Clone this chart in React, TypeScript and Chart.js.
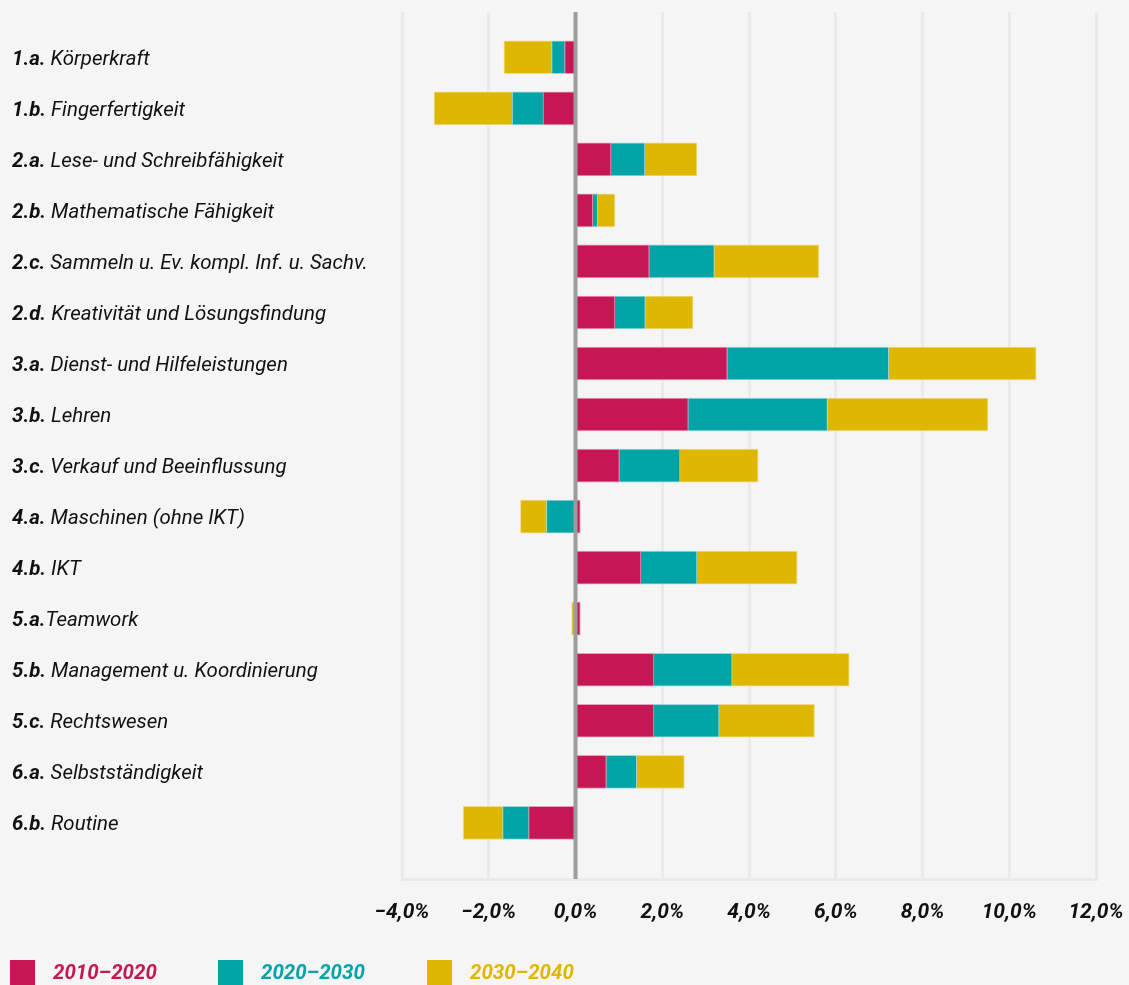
import React, { useEffect, useRef } from 'react';
import { Chart, registerables } from 'chart.js';

Chart.register(...registerables);

const codes = ['1.a. ', '1.b. ', '2.a. ', '2.b. ', '2.c. ', '2.d. ', '3.a. ', '3.b. ', '3.c. ', '4.a. ', '4.b. ', '5.a.', '5.b. ', '5.c. ', '6.a. ', '6.b. '];
const names = [
  'Körperkraft',
  'Fingerfertigkeit',
  'Lese- und Schreibfähigkeit',
  'Mathematische Fähigkeit',
  'Sammeln u. Ev. kompl. Inf. u. Sachv.',
  'Kreativität und Lösungsfindung',
  'Dienst- und Hilfeleistungen',
  'Lehren',
  'Verkauf und Beeinflussung',
  'Maschinen (ohne IKT)',
  'IKT',
  'Teamwork',
  'Management u. Koordinierung',
  'Rechtswesen',
  'Selbstständigkeit',
  'Routine',
];

const seriesLabels = ['2010–2020', '2020–2030', '2030–2040'];
const values2010 = [-0.25, -0.75, 0.82, 0.40, 1.70, 0.91, 3.50, 2.60, 1.01, 0.11, 1.51, 0.11, 1.81, 1.81, 0.71, -1.08];
const values2020 = [-0.30, -0.71, 0.78, 0.11, 1.50, 0.70, 3.72, 3.21, 1.40, -0.67, 1.29, 0.00, 1.80, 1.50, 0.70, -0.60];
const values2030 = [-1.10, -1.80, 1.20, 0.40, 2.41, 1.10, 3.40, 3.70, 1.80, -0.60, 2.31, -0.09, 2.70, 2.20, 1.10, -0.91];
const colors = ['#C71654', '#00A4A7', '#E0B700'];
const edgeColors = ['rgba(232,120,160,0.7)', 'rgba(120,205,205,0.7)', 'rgba(238,214,110,0.8)'];

const xMin = -4;
const xMax = 12;
const xStep = 2;

const FONT = 'Roboto';
const SQUEEZE = 0.975;

function fmt(v: number): string {
  const s = Math.abs(v).toFixed(1).replace('.', ',') + '%';
  return v < 0 ? '\u2212' + s : s;
}

export default function App() {
  const ref = useRef<HTMLCanvasElement | null>(null);

  useEffect(() => {
    document.body.style.margin = '0';
    document.body.style.background = '#F5F5F5';
    const canvas = ref.current;
    if (!canvas) return;

    const labelsPlugin = {
      id: 'customLabels',
      afterDatasetsDraw(chart: any) {
        const ctx = chart.ctx;
        const area = chart.chartArea;
        const xs = chart.scales.x;
        const x0 = xs.getPixelForValue(0);
        ctx.save();
        ctx.strokeStyle = '#9C9C9C';
        ctx.lineWidth = 4;
        ctx.beginPath();
        ctx.moveTo(x0, area.top);
        ctx.lineTo(x0, area.bottom);
        ctx.stroke();
        ctx.restore();
      },
      afterDraw(chart: any) {
        const ctx = chart.ctx;
        const ys = chart.scales.y;
        ctx.save();
        ctx.textBaseline = 'middle';
        ctx.textAlign = 'left';
        ctx.fillStyle = '#111111';
        names.forEach((name, i) => {
          const y = ys.getPixelForValue(i) + 2;
          ctx.save();
          ctx.translate(12, y);
          ctx.scale(SQUEEZE, 1);
          ctx.font = `italic 700 21px ${FONT}`;
          ctx.fillText(codes[i], 0, 0);
          const w = ctx.measureText(codes[i]).width;
          ctx.font = `italic 400 21px ${FONT}`;
          ctx.fillText(name, w, 0);
          ctx.restore();
        });
        // legend
        const legendX = [10, 218, 427];
        const textX = [53, 261, 470];
        seriesLabels.forEach((lab, i) => {
          ctx.fillStyle = colors[i];
          ctx.fillRect(legendX[i], 960, 25, 25);
          ctx.save();
          ctx.translate(textX[i], 974);
          ctx.scale(SQUEEZE, 1);
          ctx.font = `italic 700 21px ${FONT}`;
          ctx.fillText(lab, 0, 0);
          ctx.restore();
        });
        ctx.restore();
      },
    };

    const chart = new Chart(canvas, {
      type: 'bar',
      data: {
        labels: names.map((_, i) => i),
        datasets: [values2010, values2020, values2030].map((vals, i) => ({
          label: seriesLabels[i],
          data: vals,
          backgroundColor: colors[i],
          borderColor: edgeColors[i],
          borderWidth: 1,
          barThickness: 33,
        })),
      },
      options: {
        indexAxis: 'y',
        animation: false,
        responsive: true,
        maintainAspectRatio: false,
        layout: { padding: { top: 12, left: 402, right: 33, bottom: 56 } },
        plugins: {
          legend: { display: false },
          tooltip: { enabled: false },
        },
        scales: {
          x: {
            type: 'linear',
            min: xMin,
            max: xMax,
            stacked: true,
            afterFit(scale: any) {
              scale.height = 50;
              scale.paddingLeft = 0;
              scale.paddingRight = 0;
            },
            ticks: {
              stepSize: xStep,
              padding: 21,
              color: '#111111',
              font: { family: FONT, size: 21, weight: 'bold', style: 'italic' },
              callback: (v: any) => fmt(Number(v)),
            },
            grid: {
              color: '#EAEAEA',
              lineWidth: 3,
              drawTicks: false,
            },
            border: { display: true, color: '#EAEAEA', width: 3 },
          },
          y: {
            type: 'linear',
            reverse: true,
            offset: false,
            min: -0.887,
            max: 16.1,
            stacked: true,
            display: false,
            grid: { offset: false },
          },
        },
      },
      plugins: [labelsPlugin],
    });

    return () => chart.destroy();
  }, []);

  return (
    <div style={{ width: 1129, height: 985, background: '#F5F5F5', position: 'relative' }}>
      <canvas ref={ref} />
    </div>
  );
}
